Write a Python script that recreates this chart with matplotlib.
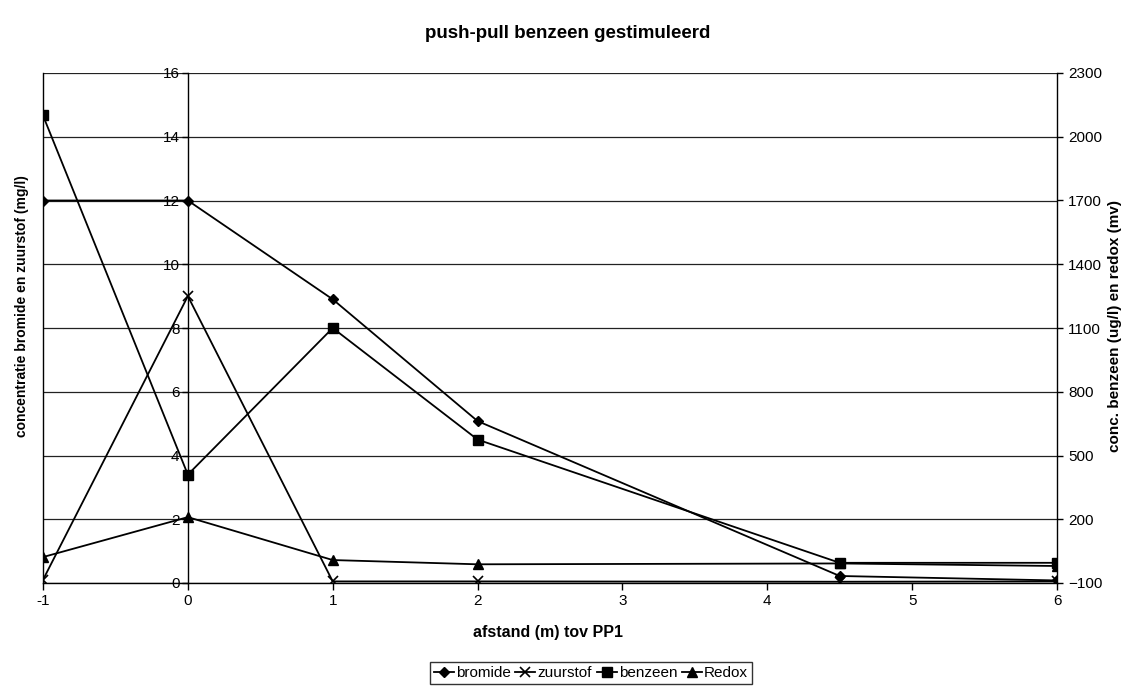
import matplotlib
matplotlib.use("Agg")
import matplotlib.pyplot as plt

plt.rcParams['font.family'] = ['Liberation Sans', 'DejaVu Sans']

# distance (m) relative to PP1
afstand = [-1, 0, 1, 2, 4.5, 6]

# left axis (mg/l)
bromide = [12.0, 12.0, 8.9, 5.08, 0.22, 0.08]
zuurstof = [0.1, 9.0, 0.05, 0.05, 0.04, 0.05]

# right axis (ug/l and mV)
benzeen = [2100, 410, 1100, 575, -5, -5]
redox = [22, 210, 8, -12, -8, -20]

left_ticks = [0, 2, 4, 6, 8, 10, 12, 14, 16]
right_ticks = [-100, 200, 500, 800, 1100, 1400, 1700, 2000, 2300]
x_ticks = [-1, 0, 1, 2, 3, 4, 5, 6]

fig = plt.figure(figsize=(11.33, 6.86), dpi=100)
ax = fig.add_axes([43/1133, 103/686, (1057-43)/1133, (583-73)/686])
ax2 = ax.twinx()

fs = 11
lw = 1.3
ms = 6.5

ax.set_xlim(-1, 6)
ax.set_ylim(0, 16)
ax2.set_ylim(-100, 2300)

# horizontal gridlines
for t in left_ticks:
    ax.axhline(t, color='#222222', lw=0.9, zorder=0.5)
# frame edge at x = -1
ax.axvline(-1, color='black', lw=1.0, clip_on=False, zorder=0.5)

h1, = ax.plot(afstand, bromide, color='black', lw=lw, marker='D', ms=ms-1, label='bromide', zorder=3)
h2, = ax.plot(afstand, zuurstof, color='black', lw=lw, marker='x', ms=ms+1, mew=1.2, label='zuurstof', zorder=3)
h3, = ax2.plot(afstand, benzeen, color='black', lw=lw, marker='s', ms=ms, label='benzeen', zorder=3)
h4, = ax2.plot(afstand, redox, color='black', lw=lw, marker='^', ms=ms+0.5, label='Redox', zorder=3)

# value axis crosses at x = 0
ax.spines['left'].set_position(('data', 0))
ax.spines['top'].set_visible(False)
ax.spines['right'].set_visible(False)
for s in ['left', 'top', 'bottom']:
    ax2.spines[s].set_visible(False)
ax2.spines['right'].set_linewidth(1.0)
ax.spines['left'].set_linewidth(1.0)
ax.spines['bottom'].set_linewidth(1.0)

ax.set_xticks(x_ticks)
ax.set_xticklabels([str(v) for v in x_ticks])
ax.set_yticks(left_ticks)
ax2.set_yticks(right_ticks)
ax.tick_params(axis='x', direction='out', length=5, width=1, labelsize=fs, pad=3)
ax.tick_params(axis='y', direction='out', length=4, width=1, labelsize=fs, pad=2)
ax2.tick_params(axis='y', direction='out', length=4, width=1, labelsize=fs, pad=4)

fig.text(568/1133, 1-34/686, 'push-pull benzeen gestimuleerd', ha='center', va='center',
         fontsize=13.5, fontweight='bold')
fig.text(548/1133, 1-633/686, 'afstand (m) tov PP1', ha='center', va='center',
         fontsize=11.5, fontweight='bold')
fig.text(22/1133, 1-306/686, 'concentratie bromide en zuurstof (mg/l)', ha='center', va='center',
         rotation=90, fontsize=10, fontweight='bold')
fig.text(1115/1133, 1-326/686, 'conc. benzeen (ug/l) en redox (mv)', ha='center', va='center',
         rotation=90, fontsize=11, fontweight='bold')

leg = fig.legend(handles=[h1, h2, h3, h4], loc='center', bbox_to_anchor=(591/1133, 1-673/686),
                 ncol=4, fontsize=fs, frameon=True, fancybox=False, edgecolor='black',
                 handlelength=1.3, handletextpad=0.15, columnspacing=0.3, borderpad=0.25,
                 borderaxespad=0)
leg.get_frame().set_linewidth(1.0)

fig.savefig('out.png', dpi=100)
